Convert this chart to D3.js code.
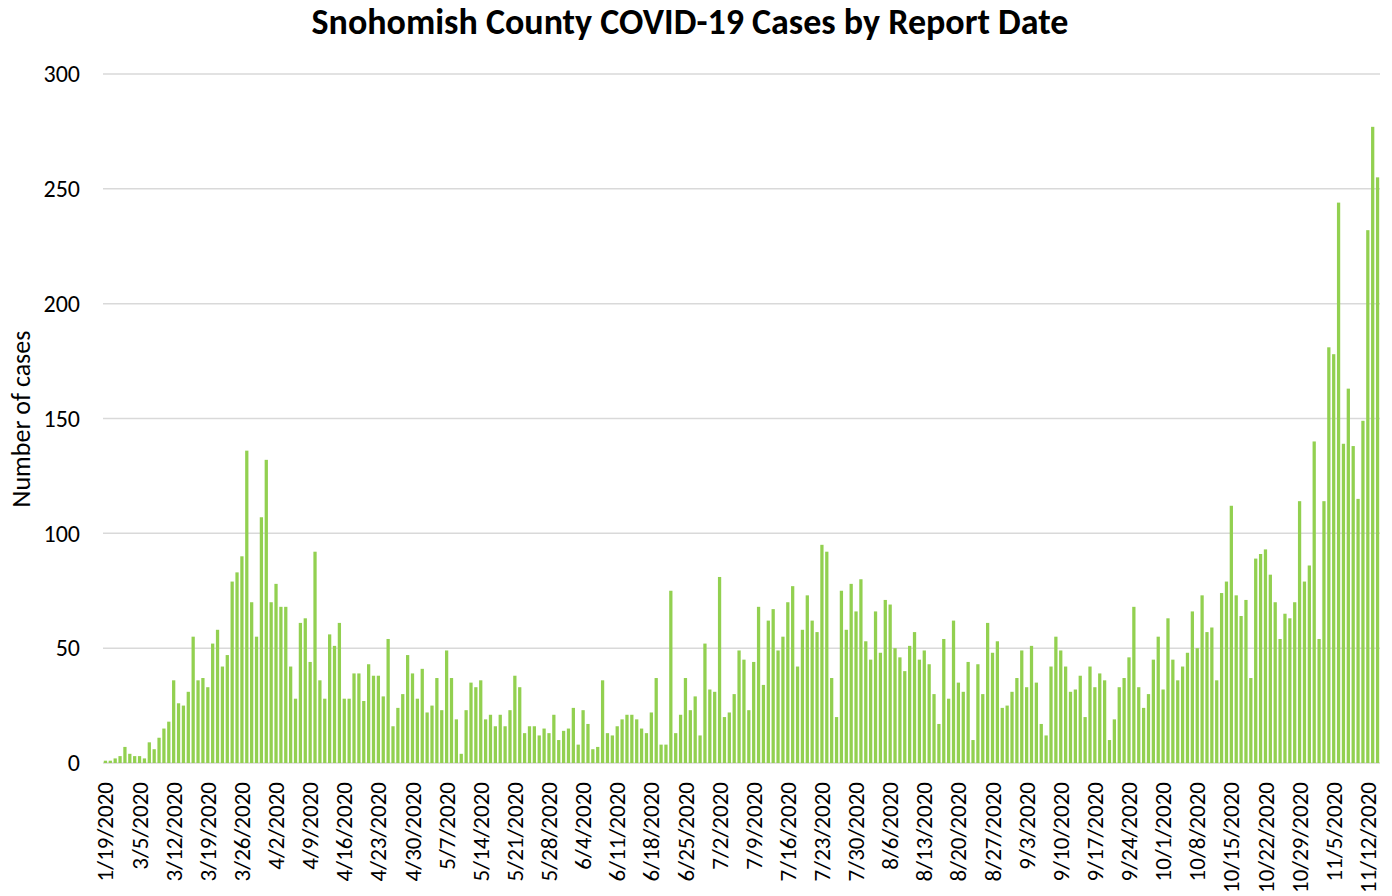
<!DOCTYPE html>
<html>
<head>
<meta charset="utf-8">
<script src="https://cdn.jsdelivr.net/npm/d3@7"></script>
<style>
  body { margin: 0; background: #fff; }
  svg { font-family: Carlito, Calibri, Lato, sans-serif; }
</style>
</head>
<body>
<div id="chart"></div>
<script>
// Daily cases, first report 1/19 then daily from 2/28 to 11/14
const firstDate = '1/19/2020';
const dailyStart = new Date(2020, 1, 28);
const dailyEnd = new Date(2020, 10, 15);

const cases = [
  1, 1, 2, 3, 7, 4, 3, 3, 2, 9, 6, 11, 15, 18, 36, 26, 25, 31, 55, 36, 37, 33, 52, 58, 42, 47,
  79, 83, 90, 136, 70, 55, 107, 132, 70, 78, 68, 68, 42, 28, 61, 63, 44, 92, 36, 28, 56, 51, 61, 28, 28, 39,
  39, 27, 43, 38, 38, 29, 54, 16, 24, 30, 47, 39, 28, 41, 22, 25, 37, 23, 49, 37, 19, 4, 23, 35, 33, 36,
  19, 21, 16, 21, 16, 23, 38, 33, 13, 16, 16, 12, 15, 13, 21, 10, 14, 15, 24, 8, 23, 17, 6, 7, 36,
  13, 12, 16, 19, 21, 21, 19, 15, 13, 22, 37, 8, 8, 75, 13, 21, 37, 23, 29, 12, 52, 32, 31, 81, 20, 22,
  30, 49, 45, 23, 44, 68, 34, 62, 67, 49, 55, 70, 77, 42, 58, 73, 62, 57, 95, 92, 37, 20, 75, 58, 78, 66,
  80, 53, 45, 66, 48, 71, 69, 50, 46, 40, 51, 57, 45, 49, 43, 30, 17, 54, 28, 62, 35, 31, 44, 10, 43,
  30, 61, 48, 53, 24, 25, 31, 37, 49, 33, 51, 35, 17, 12, 42, 55, 49, 42, 31, 32, 38, 20, 42, 33, 39, 36,
  10, 19, 33, 37, 46, 68, 33, 24, 30, 45, 55, 32, 63, 45, 36, 42, 48, 66, 50, 73, 57, 59, 36, 74, 79, 112, 73,
  64, 71, 37, 89, 91, 93, 82, 70, 54, 65, 63, 70, 114, 79, 86,
  140, 54, 114, 181, 178, 244, 139, 163, 138, 115, 149, 232, 277, 255
];

const yTicks = [0, 50, 100, 150, 200, 250, 300];
const labelEvery = 7;

const fmt = d3.timeFormat('%-m/%-d/%Y');
const dates = [firstDate].concat(d3.timeDay.range(dailyStart, dailyEnd).map(fmt));
const data = dates.map((d, i) => ({ date: d, value: cases[i] }));

const width = 1392, height = 896;
const margin = { top: 74, right: 12, bottom: 133, left: 103 };

const svg = d3.select('#chart')
  .append('svg')
  .attr('width', width)
  .attr('height', height);

const x = d3.scaleBand()
  .domain(dates)
  .range([margin.left, width - margin.right])
  .paddingInner(0.33)
  .paddingOuter(0.165);

const y = d3.scaleLinear()
  .domain([0, 300])
  .range([height - margin.bottom, margin.top]);

// gridlines
svg.append('g')
  .selectAll('line')
  .data(yTicks)
  .join('line')
  .attr('x1', margin.left)
  .attr('x2', width - margin.right)
  .attr('y1', d => y(d))
  .attr('y2', d => y(d))
  .attr('stroke', '#d9d9d9')
  .attr('stroke-width', 1.5);

// bars
svg.append('g')
  .selectAll('rect')
  .data(data)
  .join('rect')
  .attr('x', d => x(d.date))
  .attr('y', d => y(d.value))
  .attr('width', x.bandwidth())
  .attr('height', d => y(0) - y(d.value))
  .attr('fill', '#92d050');

// y axis labels
const yAxis = svg.append('g')
  .attr('transform', `translate(${margin.left - 23},0)`)
  .call(d3.axisLeft(y).tickValues(yTicks).tickSize(0).tickPadding(0));
yAxis.select('.domain').remove();
yAxis.selectAll('text')
  .attr('font-size', 24)
  .attr('fill', '#000')
  .attr('font-family', 'Carlito, Calibri, Lato, sans-serif');

// x axis labels
const xAxis = svg.append('g')
  .attr('transform', `translate(0,${height - margin.bottom})`)
  .call(d3.axisBottom(x)
    .tickValues(dates.filter((d, i) => i % labelEvery === 0))
    .tickSize(0));
xAxis.select('.domain').remove();
xAxis.selectAll('text')
  .attr('font-size', 23)
  .attr('fill', '#000')
  .attr('font-family', 'Carlito, Calibri, Lato, sans-serif')
  .attr('transform', 'rotate(-90)')
  .attr('text-anchor', 'end')
  .attr('dy', '0.35em')
  .attr('x', -19)
  .attr('y', 0);

// title
svg.append('text')
  .attr('x', 690)
  .attr('y', 34)
  .attr('text-anchor', 'middle')
  .attr('font-size', 36)
  .attr('font-weight', 'bold')
  .text('Snohomish County COVID-19 Cases by Report Date');

// y axis title
svg.append('text')
  .attr('transform', 'translate(30,419) rotate(-90)')
  .attr('text-anchor', 'middle')
  .attr('font-size', 26)
  .text('Number of cases');
</script>
</body>
</html>
